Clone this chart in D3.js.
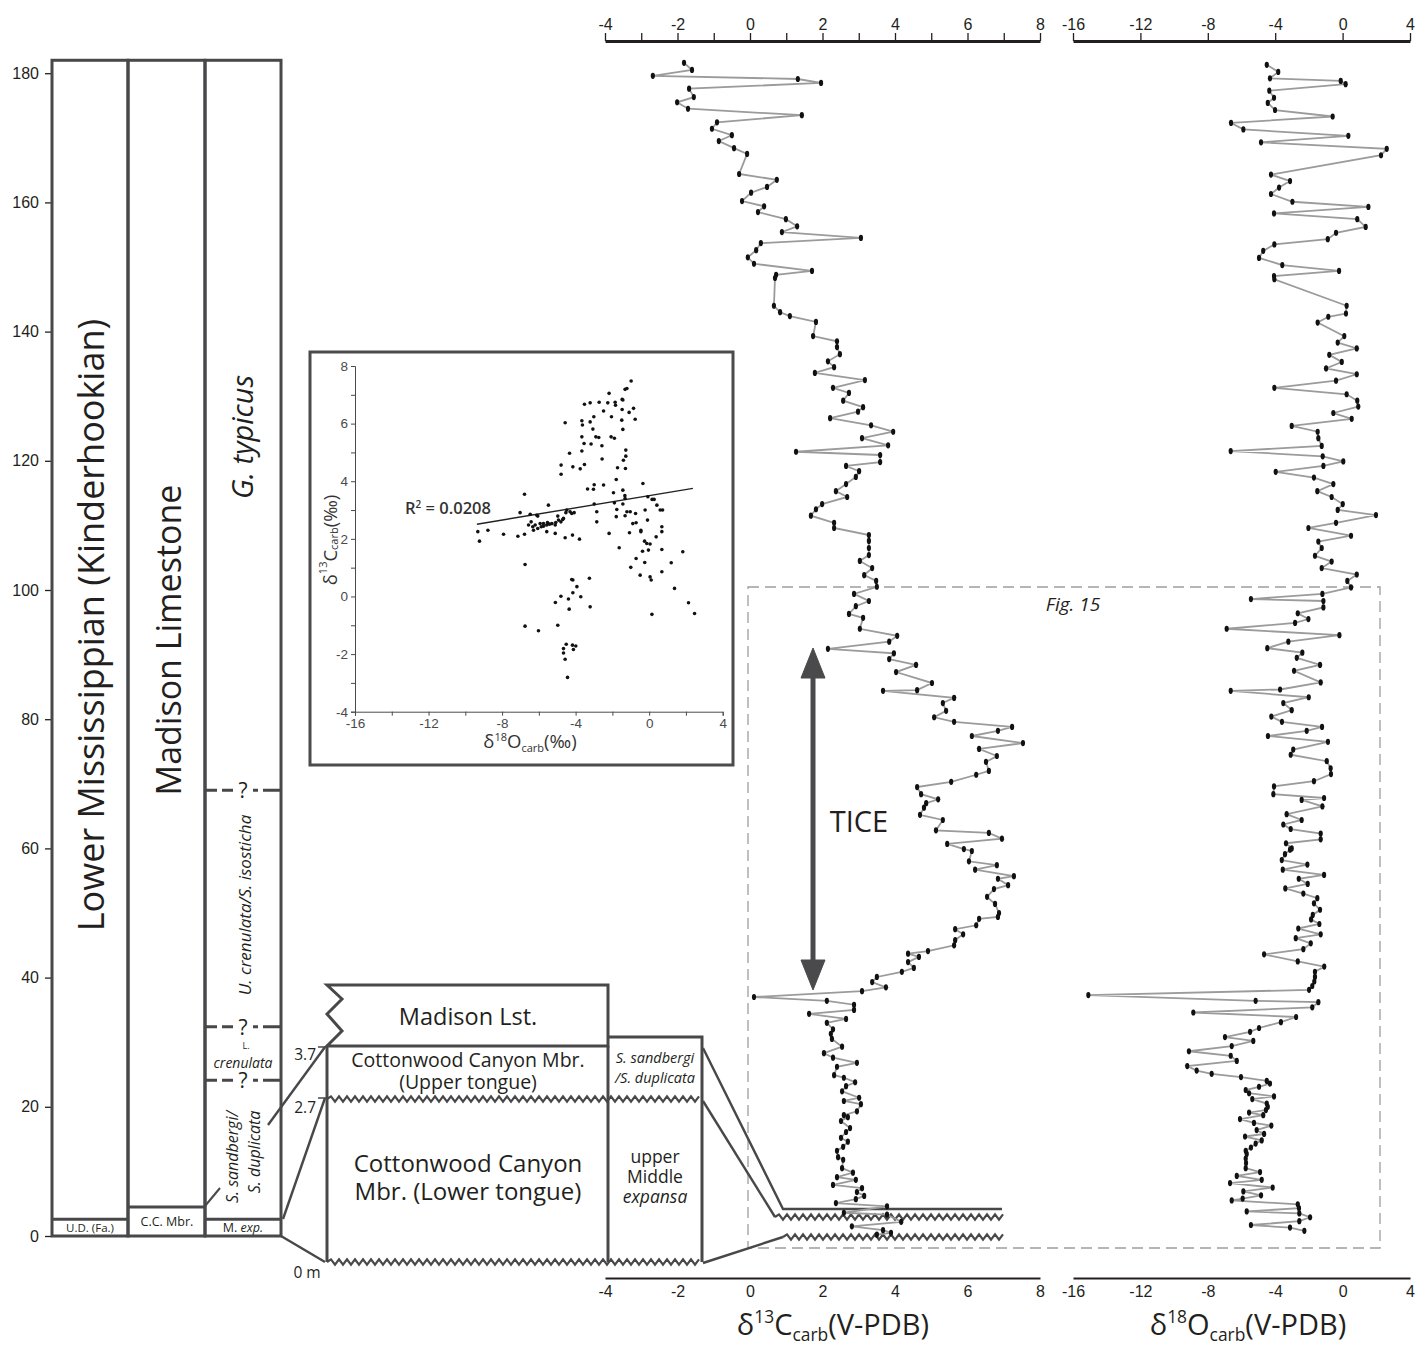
<!DOCTYPE html>
<html>
<head>
<meta charset="utf-8">
<script src="https://cdn.jsdelivr.net/npm/d3@7"></script>
<style>
  body { margin: 0; background: #fff; }
  svg { display: block; font-family: 'Open Sans', 'Noto Sans', sans-serif; }
</style>
</head>
<body>
<div id="chart"></div>
<script>
/* δ13C carb samples: [depth (m), value (‰ V-PDB)] */
const c13Samples = [[181.6,-1.82],[180.5,-1.60],[179.6,-2.68],[179.1,1.32],[178.5,1.96],[177.6,-1.68],[176.3,-1.55],[175.5,-2.01],[174.5,-1.71],[173.5,1.43],[172.4,-0.91],[171.4,-1.05],[170.4,-0.50],[169.5,-0.86],[168.4,-0.44],[167.5,-0.08],[164.4,-0.30],[163.5,0.74],[162.4,0.47],[161.5,0.03],[160.2,-0.22],[159.4,0.39],[158.5,0.22],[157.4,0.99],[156.3,1.30],[155.4,0.88],[154.5,3.06],[153.7,0.30],[152.6,0.17],[151.5,-0.06],[150.5,0.11],[149.4,1.71],[148.8,0.72],[148.3,0.69],[144.0,0.66],[143.0,0.83],[142.4,1.10],[141.5,1.82],[139.3,1.74],[138.5,2.40],[137.6,2.40],[136.5,2.48],[135.4,2.15],[134.5,2.32],[133.6,1.79],[132.5,3.17],[131.3,2.29],[130.5,2.73],[129.3,2.57],[128.3,3.12],[127.6,2.98],[126.6,2.21],[125.5,3.34],[124.5,3.95],[123.5,3.09],[122.4,3.81],[121.4,1.27],[120.9,3.59],[119.8,3.59],[119.2,2.65],[118.4,3.01],[117.5,2.92],[116.4,2.65],[115.3,2.37],[114.4,2.68],[113.3,1.99],[112.5,1.82],[111.5,1.68],[110.4,2.32],[109.6,2.32],[108.5,3.28],[107.6,3.28],[106.5,3.28],[105.4,3.28],[104.5,3.03],[103.4,3.37],[102.3,3.15],[101.4,3.48],[100.5,3.50],[99.4,2.87],[98.3,3.28],[97.5,2.92],[96.3,2.73],[95.7,3.12],[94.0,3.03],[92.9,4.06],[92.0,3.84],[90.9,2.15],[90.2,3.97],[89.3,3.84],[88.4,4.58],[87.3,4.03],[85.6,5.02],[84.5,4.61],[84.4,3.67],[83.3,5.63],[82.5,5.32],[81.3,5.41],[80.3,5.08],[79.6,5.63],[78.8,7.23],[78.2,6.84],[77.4,6.12],[76.3,7.53],[75.4,6.32],[74.3,6.81],[73.4,6.51],[72.0,6.59],[71.4,6.24],[70.3,5.55],[69.5,4.61],[68.4,4.72],[67.6,5.19],[67.0,4.86],[66.3,4.80],[65.2,4.69],[64.4,5.32],[62.8,5.13],[62.4,6.59],[61.5,6.95],[60.7,5.44],[59.9,5.90],[59.6,6.12],[58.0,6.04],[57.4,6.81],[56.7,6.21],[55.7,7.28],[55.3,6.84],[54.3,7.12],[53.7,6.73],[52.5,6.54],[51.4,6.76],[50.0,6.87],[49.4,6.84],[49.1,6.32],[48.1,6.24],[47.5,5.66],[46.7,5.88],[45.8,5.66],[45.0,5.63],[44.1,4.91],[43.7,4.36],[43.2,4.66],[42.4,4.36],[41.5,4.52],[40.9,4.19],[40.1,3.50],[39.3,3.37],[38.5,3.75],[37.9,3.09],[37.0,0.11],[36.4,2.12],[35.8,2.87],[35.0,2.87],[34.4,1.63],[33.6,2.65],[33.0,2.12],[32.0,2.29],[31.3,2.23],[30.5,2.26],[29.3,2.54],[28.3,2.04],[27.6,2.29],[26.8,2.95],[26.2,2.40],[24.9,2.32],[24.5,2.59],[23.8,2.90],[23.2,2.65],[22.4,2.54],[21.4,3.01],[20.9,2.59],[20.4,3.06],[19.3,2.95],[18.7,2.59],[18.4,2.70],[17.8,2.51],[16.7,2.76],[16.1,2.65],[15.2,2.51],[14.6,2.70],[13.8,2.57],[13.2,2.40],[12.2,2.43],[11.8,2.57],[10.5,2.54],[9.8,2.84],[9.1,2.40],[8.7,2.92],[7.9,2.29],[7.4,3.09],[6.8,2.95],[6.2,3.15],[5.7,2.92],[5.1,2.37],[4.6,3.78],[3.6,2.59],[3.3,3.78],[2.2,4.17],[1.5,2.81],[0.9,3.67],[0.5,3.89],[0.2,3.50]];

/* δ18O carb samples: [depth (m), value (‰ V-PDB)] */
const o18Samples = [[181.3,-4.50],[180.2,-3.82],[179.2,-4.31],[178.8,-0.11],[178.3,0.18],[177.3,-4.35],[176.2,-4.07],[175.4,-4.44],[174.3,-4.01],[173.3,-0.59],[172.3,-6.62],[171.3,-5.89],[170.3,0.34],[169.3,-4.84],[168.3,2.62],[167.3,2.28],[164.3,-4.25],[163.3,-3.12],[162.3,-3.77],[161.3,-4.25],[160.1,-2.98],[159.3,1.53],[158.3,-4.07],[157.4,0.87],[156.2,1.37],[155.3,-0.39],[154.3,-0.88],[153.5,-4.05],[152.5,-4.71],[151.4,-4.96],[150.3,-3.58],[149.4,-0.21],[148.6,-4.07],[148.1,-4.05],[144.0,0.24],[142.8,0.20],[142.3,-0.85],[141.4,-1.48],[139.3,0.10],[138.3,-0.29],[137.4,0.84],[136.4,-0.79],[135.3,-0.05],[134.3,-0.98],[133.4,0.84],[132.4,-0.39],[131.3,-4.05],[130.3,0.24],[129.3,0.87],[128.4,0.93],[127.4,-0.55],[126.5,0.54],[125.4,-3.02],[124.5,-1.48],[123.5,-1.44],[122.3,-1.24],[121.5,-6.64],[120.7,-1.18],[119.9,0.04],[119.2,-1.14],[118.3,-3.97],[117.4,-1.70],[116.4,-0.55],[115.3,-1.50],[114.4,-0.65],[113.3,0.01],[112.4,-0.29],[111.6,1.98],[110.4,-0.39],[109.6,-2.03],[108.4,0.50],[107.5,-1.44],[106.5,-1.24],[105.3,-1.64],[104.4,-0.65],[103.4,-1.24],[102.4,0.84],[101.4,0.28],[100.4,0.50],[99.4,-1.20],[98.6,-5.44],[98.3,-1.14],[97.3,-1.14],[96.4,-2.66],[95.5,-2.03],[94.9,-2.82],[94.0,-6.88],[93.0,-0.19],[92.0,-3.22],[91.0,-4.47],[90.3,-2.39],[89.5,-2.72],[88.4,-1.34],[87.5,-2.88],[85.7,-1.30],[84.6,-3.71],[84.4,-6.64],[83.4,-2.01],[82.5,-3.52],[81.4,-3.02],[80.4,-4.23],[79.6,-3.60],[78.8,-1.22],[78.2,-2.13],[77.4,-4.43],[76.5,-0.87],[75.3,-2.93],[74.5,-3.08],[73.5,-0.94],[72.4,-0.71],[71.5,-0.69],[70.4,-1.70],[69.6,-4.07],[68.4,-4.11],[67.8,-1.10],[67.5,-2.43],[66.5,-1.20],[65.3,-3.32],[64.4,-2.43],[63.7,-3.52],[63.0,-3.08],[62.3,-1.30],[61.4,-1.30],[60.8,-3.36],[60.0,-3.02],[59.8,-3.12],[59.1,-3.42],[58.2,-3.61],[57.5,-2.09],[56.7,-3.55],[55.9,-1.10],[55.3,-2.60],[54.5,-2.07],[53.8,-3.40],[53.0,-2.33],[52.3,-1.50],[51.5,-1.70],[50.5,-1.34],[49.7,-1.77],[49.0,-1.87],[48.3,-1.38],[47.6,-2.63],[46.7,-1.30],[46.1,-2.78],[45.3,-1.89],[44.4,-2.33],[43.6,-4.66],[42.5,-2.66],[41.7,-1.09],[40.9,-1.64],[40.1,-1.64],[39.4,-1.68],[38.7,-1.80],[38.1,-1.99],[37.3,-15.09],[36.4,-5.16],[36.2,-1.44],[35.4,-1.80],[34.6,-8.86],[33.9,-2.76],[33.1,-3.66],[32.2,-4.96],[31.6,-5.49],[30.8,-6.98],[30.2,-5.30],[29.4,-6.58],[28.6,-9.12],[27.9,-6.64],[27.1,-6.28],[26.3,-9.22],[25.6,-8.66],[25.1,-7.77],[24.6,-6.03],[24.0,-4.50],[23.6,-4.31],[23.1,-4.96],[22.6,-5.75],[22.1,-5.55],[21.6,-4.07],[21.2,-5.36],[20.5,-4.50],[20.0,-4.44],[19.5,-4.55],[19.1,-5.55],[18.7,-4.71],[18.1,-6.09],[17.5,-5.26],[17.1,-4.23],[16.4,-5.10],[15.8,-4.66],[15.4,-5.79],[14.8,-4.80],[14.3,-5.16],[13.7,-5.44],[13.2,-5.75],[12.7,-5.69],[12.0,-5.75],[11.3,-5.73],[10.5,-5.75],[9.9,-4.90],[9.3,-6.28],[8.7,-4.80],[8.2,-6.68],[7.5,-4.15],[6.9,-5.89],[6.3,-4.84],[5.8,-5.93],[5.5,-6.58],[4.9,-2.66],[4.3,-2.59],[3.8,-5.69],[3.5,-2.57],[2.9,-1.93],[2.3,-2.57],[1.7,-5.44],[1.3,-3.12],[0.8,-2.27]];

/* cross-plot: [δ18O, δ13C] */
const crossPlot = [[-0.98,7.48],[-1.21,7.22],[-1.31,7.19],[-2.18,7.05],[-1.47,6.84],[-1.43,6.82],[-2.72,6.74],[-3.21,6.72],[-3.52,6.67],[-1.85,6.74],[-1.83,6.64],[-2.25,6.72],[-2.48,6.44],[-1.09,6.39],[-0.85,6.53],[-1.47,6.49],[-0.76,6.15],[-1.49,6.12],[-2.05,6.24],[-4.57,6.03],[-3.66,6.10],[-3.63,5.95],[-3.21,6.06],[-3.01,6.24],[-3.06,5.81],[-1.43,5.80],[-2.07,5.54],[-1.89,5.49],[-2.74,5.52],[-2.90,5.54],[-3.66,5.54],[-3.54,5.31],[-3.16,5.29],[-3.66,5.05],[-4.33,4.97],[-2.57,5.23],[-1.27,5.08],[-1.27,4.87],[-1.40,4.73],[-1.29,4.44],[-3.52,4.58],[-4.79,4.56],[-4.15,4.50],[-3.75,4.43],[-4.79,4.24],[-1.72,4.47],[-2.56,4.77],
  [-1.79,4.06],[-0.34,3.92],[-2.48,3.87],[-3.35,3.73],[-2.99,3.88],[-3.03,3.72],[-1.43,3.69],[-1.94,3.60],[-1.32,3.50],[-1.31,3.40],[-0.07,3.46],[0.16,3.37],[0.27,3.37],[0.42,3.17],[-1.89,3.25],[-1.43,3.21],[-2.99,3.21],[-1.76,3.02],[-1.21,2.94],[-1.31,2.80],[-1.79,2.77],[-1.03,2.94],[-0.74,2.88],[-0.22,3.00],[-0.09,2.65],[0.60,3.00],[0.73,3.00],[0.69,2.42],[0.69,2.25],[0.38,2.07],[-0.45,2.30],[-0.89,2.53],[-0.71,2.56],[-0.45,2.25],[-2.85,2.59],[-2.18,2.19],[-2.85,2.94],[-1.07,2.21],[-1.63,1.69],[-0.25,1.92],[-0.13,1.84],[0.05,1.82],[-0.04,1.61],[-0.36,1.57],[-0.71,1.32],[-0.24,1.18],[-1.00,1.01],[-0.49,0.74],[0.05,0.68],[0.11,0.57],[0.69,1.63],[0.69,0.86],[1.20,1.17],[1.83,1.55],[1.38,0.28],[2.14,-0.22],[2.47,-0.59],[0.15,-0.62],
  [-9.32,2.25],[-9.23,1.92],[-8.77,2.30],[-7.92,2.16],[-7.14,2.09],[-6.78,2.16],[-6.56,2.48],[-6.78,3.55],[-7.02,2.91],[-6.47,2.85],[-6.11,2.82],[-6.06,2.79],[-6.42,2.59],[-6.33,2.42],[-6.29,2.30],[-6.06,2.36],[-5.87,2.42],[-5.75,2.44],[-5.75,2.53],[-5.57,2.48],[-5.53,2.57],[-5.42,2.51],[-5.29,2.53],[-5.11,2.48],[-5.08,2.57],[-4.93,2.65],[-4.80,2.59],[-4.70,2.67],[-4.97,2.79],[-5.48,3.17],[-5.57,2.25],[-4.57,2.04],[-4.53,2.91],[-4.48,3.00],[-4.30,2.94],[-4.21,2.88],[-4.08,2.91],[-4.17,2.13],[-3.79,1.99],[-5.11,2.19],[-4.66,2.71],[-5.93,2.53],[-6.20,2.48],
  [-6.75,1.11],[-4.21,0.59],[-4.15,0.57],[-3.25,0.63],[-3.93,0.34],[-4.15,0.13],[-4.39,-0.09],[-3.72,-0.01],[-4.80,0.01],[-5.10,-0.21],[-4.35,-0.44],[-3.21,-0.36],[-6.75,-1.03],[-6.02,-1.19],[-4.97,-1.00],[-4.66,-1.81],[-4.51,-1.66],[-4.17,-1.69],[-3.99,-1.72],[-4.12,-1.84],[-4.66,-1.96],[-4.57,-2.18],[-4.44,-2.81]];

/* regression shown in the cross-plot */
const trendSlope = 0.106, trendIntercept = 3.50, trendRange = [-9.37, 2.38];

/* tick values */
const depthTicks = d3.range(0, 181, 20);
const c13Ticks = d3.range(-4, 9, 1);
const o18Ticks = d3.range(-16, 5, 4);
const insetXTicks = d3.range(-16, 5, 2);
const insetYTicks = d3.range(-4, 9, 1);

const width = 1419, height = 1348;
const ink = "#231f20", frame = "#48484a", curveGrey = "#9b9b9b";

const svg = d3.select("#chart").append("svg")
    .attr("width", width)
    .attr("height", height);

/* scales */
const depth = d3.scaleLinear().domain([0, 180]).range([1236, 73.2]);
const xC = d3.scaleLinear().domain([-4, 8]).range([605, 1040]);
const xO = d3.scaleLinear().domain([-16, 4]).range([1073, 1410]);

function styleAxis(g, size) {
    g.select(".domain").attr("stroke", ink).attr("stroke-width", 3);
    g.selectAll(".tick line").attr("stroke", ink).attr("stroke-width", 1.3);
    g.selectAll(".tick text").attr("fill", ink).style("font-size", size + "px");
}

/* ---- dashed Fig. 15 box (behind everything) ---- */
svg.append("rect")
    .attr("x", 748).attr("y", 587).attr("width", 632).attr("height", 661)
    .attr("fill", "none").attr("stroke", "#9d9d9d").attr("stroke-width", 1.3)
    .attr("stroke-dasharray", "11,6");
svg.append("text")
    .attr("x", 1073).attr("y", 611)
    .attr("text-anchor", "middle").attr("font-style", "italic")
    .style("font-size", "19px").attr("fill", ink)
    .text("Fig. 15");

/* ---- left depth axis ---- */
svg.append("g")
    .attr("transform", "translate(52,0)")
    .call(d3.axisLeft(depth).tickValues(depthTicks).tickSize(7).tickPadding(6).tickSizeOuter(0))
    .call(g => styleAxis(g, 16))
    .call(g => g.select(".domain").remove());

/* ---- stratigraphic columns ---- */
const colTop = 182;
const strat = svg.append("g").attr("fill", "none").attr("stroke", frame).attr("stroke-width", 3);
[[52, 128, 2.6], [128, 205, 4.5], [205, 281, 2.6]].forEach(([x0, x1, base]) => {
    strat.append("rect").attr("x", x0).attr("y", depth(colTop))
        .attr("width", x1 - x0).attr("height", depth(0) - depth(colTop));
    strat.append("line").attr("x1", x0).attr("x2", x1)
        .attr("y1", depth(base)).attr("y2", depth(base));
});
// leader from C.C. Mbr. box
strat.append("line").attr("x1", 205).attr("y1", 1206).attr("x2", 220).attr("y2", 1188).attr("stroke-width", 2);

// uncertain zone boundaries
[69.0, 32.4, 24.1].forEach(dd => {
    const y = depth(dd);
    strat.append("line").attr("x1", 205).attr("x2", 233).attr("y1", y).attr("y2", y).attr("stroke-dasharray", "12,5");
    strat.append("line").attr("x1", 253).attr("x2", 281).attr("y1", y).attr("y2", y).attr("stroke-dasharray", "5,5,12,0");
    svg.append("text").attr("x", 243).attr("y", y + 8).attr("text-anchor", "middle")
        .style("font-size", "21px").attr("fill", ink).text("?");
});

function vText(x, y, txt, size, italic) {
    return svg.append("text")
        .attr("transform", `translate(${x},${y}) rotate(-90)`)
        .attr("text-anchor", "middle").attr("dominant-baseline", "central")
        .attr("font-style", italic ? "italic" : null)
        .style("font-size", size + "px").attr("fill", ink).text(txt);
}
vText(90, 625, "Lower Mississippian (Kinderhookian)", 36, false);
vText(168, 640, "Madison Limestone", 34, false);
vText(241, 437, "G. typicus", 29, true);
vText(244, 905, "U. crenulata/S. isosticha", 17, true);
vText(232, 1157, "S. sandbergi/", 16, true);
vText(254, 1152, "S. duplicata", 16, true);

svg.append("text").attr("x", 246).attr("y", 1049).attr("text-anchor", "middle")
    .style("font-size", "9px").attr("fill", ink).text("L.");
svg.append("text").attr("x", 243).attr("y", 1068).attr("text-anchor", "middle")
    .attr("font-style", "italic").style("font-size", "14px").attr("fill", ink).text("crenulata");

svg.append("text").attr("x", 90).attr("y", 1232).attr("text-anchor", "middle")
    .style("font-size", "11.5px").attr("fill", ink).text("U.D. (Fa.)");
svg.append("text").attr("x", 167).attr("y", 1226).attr("text-anchor", "middle")
    .style("font-size", "12.5px").attr("fill", ink).text("C.C. Mbr.");
const mexp = svg.append("text").attr("x", 243).attr("y", 1232).attr("text-anchor", "middle")
    .style("font-size", "12.5px").attr("fill", ink);
mexp.append("tspan").text("M. ");
mexp.append("tspan").attr("font-style", "italic").text("exp.");

/* ---- expanded basal section ---- */
function zigzag(x0, x1, y, amp = 2.6, period = 8) {
    let p = `M${x0},${y}`;
    let up = true;
    for (let x = x0 + period / 2; x <= x1 + 0.01; x += period / 2) {
        p += `L${x},${y + (up ? -amp : amp)}`;
        up = !up;
    }
    return p;
}
const sec = svg.append("g").attr("fill", "none").attr("stroke", frame).attr("stroke-width", 3);
// Madison Lst. block with broken left edge
sec.append("path").attr("d", "M327,985 L608,985 L608,1046 L327,1046 L342,1031 L327,1014 L342,999 Z").attr("fill", "#fff");
// tongues
sec.append("line").attr("x1", 327).attr("y1", 1046).attr("x2", 327).attr("y2", 1262);
sec.append("line").attr("x1", 608).attr("y1", 1046).attr("x2", 608).attr("y2", 1262);
sec.append("path").attr("d", "M608,1037 L702,1037 L702,1262");
sec.append("path").attr("d", zigzag(327, 702, 1099)).attr("stroke-width", 2.2);
sec.append("path").attr("d", zigzag(327, 702, 1262)).attr("stroke-width", 2.2);
// correlation lines
const corr = svg.append("g").attr("fill", "none").attr("stroke", frame).attr("stroke-width", 2.4);
corr.append("line").attr("x1", 268).attr("y1", 1125).attr("x2", 325).attr("y2", 1047);
corr.append("line").attr("x1", 283).attr("y1", 1219).attr("x2", 325).attr("y2", 1098);
corr.append("line").attr("x1", 281).attr("y1", 1236).attr("x2", 325).attr("y2", 1262);
corr.append("line").attr("x1", 318).attr("y1", 1047).attr("x2", 326).attr("y2", 1047).attr("stroke-width", 1.5);
corr.append("line").attr("x1", 318).attr("y1", 1098).attr("x2", 326).attr("y2", 1098).attr("stroke-width", 1.5);
corr.append("path").attr("d", "M703,1048 L783,1209 L1002,1209");
corr.append("line").attr("x1", 703).attr("y1", 1101).attr("x2", 775).attr("y2", 1217);
corr.append("path").attr("d", zigzag(775, 1005, 1217)).attr("stroke-width", 2.2);
corr.append("line").attr("x1", 703).attr("y1", 1263).attr("x2", 783).attr("y2", 1237);
corr.append("path").attr("d", zigzag(783, 1005, 1237)).attr("stroke-width", 2.2);

function cText(x, y, txt, size, italic) {
    return svg.append("text").attr("x", x).attr("y", y).attr("text-anchor", "middle")
        .attr("font-style", italic ? "italic" : null)
        .style("font-size", size + "px").attr("fill", ink).text(txt);
}
cText(468, 1025, "Madison Lst.", 23.5);
cText(468, 1067, "Cottonwood Canyon Mbr.", 19.5);
cText(468, 1089, "(Upper tongue)", 19.5);
cText(468, 1172, "Cottonwood Canyon", 24);
cText(468, 1200, "Mbr. (Lower tongue)", 24);
cText(655, 1063, "S. sandbergi", 14.5, true);
cText(655, 1083, "/S. duplicata", 14.5, true);
cText(655, 1163, "upper", 17.5);
cText(655, 1183, "Middle", 17.5);
cText(655, 1203, "expansa", 17.5, true);
svg.append("text").attr("x", 316).attr("y", 1060).attr("text-anchor", "end").style("font-size", "15.5px").attr("fill", ink).text("3.7");
svg.append("text").attr("x", 316).attr("y", 1113).attr("text-anchor", "end").style("font-size", "15.5px").attr("fill", ink).text("2.7");
svg.append("text").attr("x", 307).attr("y", 1278).attr("text-anchor", "middle").style("font-size", "15.5px").attr("fill", ink).text("0 m");

/* ---- isotope curves ---- */
function drawCurve(data, xs) {
    svg.append("path")
        .datum(data)
        .attr("fill", "none").attr("stroke", curveGrey).attr("stroke-width", 1.8)
        .attr("d", d3.line().x(d => xs(d[1])).y(d => depth(d[0])));
    svg.append("g").selectAll("ellipse")
        .data(data).join("ellipse")
        .attr("cx", d => xs(d[1])).attr("cy", d => depth(d[0]))
        .attr("rx", 2.1).attr("ry", 3.1).attr("fill", "#111");
}
drawCurve(c13Samples, xC);
drawCurve(o18Samples, xO);

/* top and bottom axes */
svg.append("g").attr("transform", "translate(0,41)")
    .call(d3.axisTop(xC).tickValues(c13Ticks).tickSize(8).tickSizeOuter(0).tickPadding(3)
        .tickFormat(d => d % 2 === 0 ? String(d) : ""))
    .call(g => styleAxis(g, 16));
svg.append("g").attr("transform", "translate(0,41)")
    .call(d3.axisTop(xO).tickValues(o18Ticks).tickSize(8).tickSizeOuter(0).tickPadding(3)
        .tickFormat(d => String(d)))
    .call(g => styleAxis(g, 16));
svg.append("g").attr("transform", "translate(0,1278)")
    .call(d3.axisBottom(xC).tickValues(c13Ticks.filter(d => d % 2 === 0)).tickSize(0).tickSizeOuter(0).tickPadding(8)
        .tickFormat(d => String(d)))
    .call(g => styleAxis(g, 16))
    .call(g => g.select(".domain").attr("stroke-width", 2));
svg.append("g").attr("transform", "translate(0,1278)")
    .call(d3.axisBottom(xO).tickValues(o18Ticks).tickSize(0).tickSizeOuter(0).tickPadding(8)
        .tickFormat(d => String(d)))
    .call(g => styleAxis(g, 16))
    .call(g => g.select(".domain").attr("stroke-width", 2));

function isoTitle(x, y, size, mass, el, tail) {
    const t = svg.append("text").attr("x", x).attr("y", y).attr("text-anchor", "middle")
        .style("font-size", size + "px").attr("fill", ink);
    t.append("tspan").text("δ");
    t.append("tspan").attr("dy", -size * 0.42).style("font-size", size * 0.6 + "px").text(mass);
    t.append("tspan").attr("dy", size * 0.42).text(el);
    t.append("tspan").attr("dy", size * 0.2).style("font-size", size * 0.6 + "px").text("carb");
    t.append("tspan").attr("dy", -size * 0.2).text(tail);
    return t;
}
isoTitle(833, 1335, 29, "13", "C", "(V-PDB)");
isoTitle(1248, 1335, 29, "18", "O", "(V-PDB)");

/* ---- TICE arrow ---- */
const arrow = svg.append("g").attr("fill", "#4a4a4c").attr("stroke", "#4a4a4c");
arrow.append("line").attr("x1", 813).attr("x2", 813).attr("y1", 672).attr("y2", 966).attr("stroke-width", 5);
arrow.append("path").attr("d", "M813,648 L825,678 L801,678 Z").attr("stroke-width", 1);
arrow.append("path").attr("d", "M813,990 L825,960 L801,960 Z").attr("stroke-width", 1);
svg.append("text").attr("x", 859).attr("y", 832).attr("text-anchor", "middle")
    .style("font-size", "29px").attr("fill", ink).text("TICE");

/* ---- cross-plot inset ---- */
const inset = svg.append("g");
inset.append("rect").attr("x", 310).attr("y", 352).attr("width", 423).attr("height", 413)
    .attr("fill", "#fff").attr("stroke", "#4b4b4d").attr("stroke-width", 3);
const xI = d3.scaleLinear().domain([-16, 4]).range([355, 722.7]);
const yI = d3.scaleLinear().domain([-4, 8]).range([711.7, 366]);
const insetGrey = "#4a4a4a";
inset.append("g").attr("transform", "translate(0,711.7)")
    .call(d3.axisBottom(xI).tickValues(insetXTicks).tickSizeOuter(0).tickSize(4).tickPadding(3)
        .tickFormat(d => d % 4 === 0 ? String(d) : ""))
    .call(g => {
        g.select(".domain").attr("stroke", insetGrey).attr("stroke-width", 1);
        g.selectAll(".tick line").attr("stroke", insetGrey);
        g.selectAll(".tick text").attr("fill", insetGrey).style("font-size", "13.5px");
    });
inset.append("g").attr("transform", "translate(355,0)")
    .call(d3.axisLeft(yI).tickValues(insetYTicks).tickSizeOuter(0).tickSize(4).tickPadding(3)
        .tickFormat(d => d % 2 === 0 ? String(d) : ""))
    .call(g => {
        g.select(".domain").attr("stroke", insetGrey).attr("stroke-width", 1);
        g.selectAll(".tick line").attr("stroke", insetGrey);
        g.selectAll(".tick text").attr("fill", insetGrey).style("font-size", "13.5px");
    });
inset.append("line")
    .attr("x1", xI(trendRange[0])).attr("y1", yI(trendSlope * trendRange[0] + trendIntercept))
    .attr("x2", xI(trendRange[1])).attr("y2", yI(trendSlope * trendRange[1] + trendIntercept))
    .attr("stroke", "#222").attr("stroke-width", 1.4);
inset.append("g").selectAll("circle")
    .data(crossPlot).join("circle")
    .attr("cx", d => xI(d[0])).attr("cy", d => yI(d[1]))
    .attr("r", 1.8).attr("fill", "#111");
const r2 = inset.append("text").attr("x", 405).attr("y", 514)
    .style("font-size", "16.5px").attr("font-weight", 600).attr("fill", "#333");
r2.append("tspan").text("R");
r2.append("tspan").attr("dy", -6).style("font-size", "10px").text("2");
r2.append("tspan").attr("dy", 6).text(" = 0.0208");

const xl = inset.append("text").attr("x", 530).attr("y", 748).attr("text-anchor", "middle")
    .style("font-size", "18.5px").attr("fill", "#333");
xl.append("tspan").text("δ");
xl.append("tspan").attr("dy", -7).style("font-size", "11px").text("18");
xl.append("tspan").attr("dy", 7).text("O");
xl.append("tspan").attr("dy", 4).style("font-size", "11px").text("carb");
xl.append("tspan").attr("dy", -4).text("(‰)");
const yl = inset.append("text").attr("transform", "translate(329,540) rotate(-90)")
    .attr("text-anchor", "middle").attr("dominant-baseline", "central")
    .style("font-size", "18.5px").attr("fill", "#333");
yl.append("tspan").text("δ");
yl.append("tspan").attr("dy", -7).style("font-size", "11px").text("13");
yl.append("tspan").attr("dy", 7).text("C");
yl.append("tspan").attr("dy", 4).style("font-size", "11px").text("carb");
yl.append("tspan").attr("dy", -4).text("(‰)");
</script>
</body>
</html>
